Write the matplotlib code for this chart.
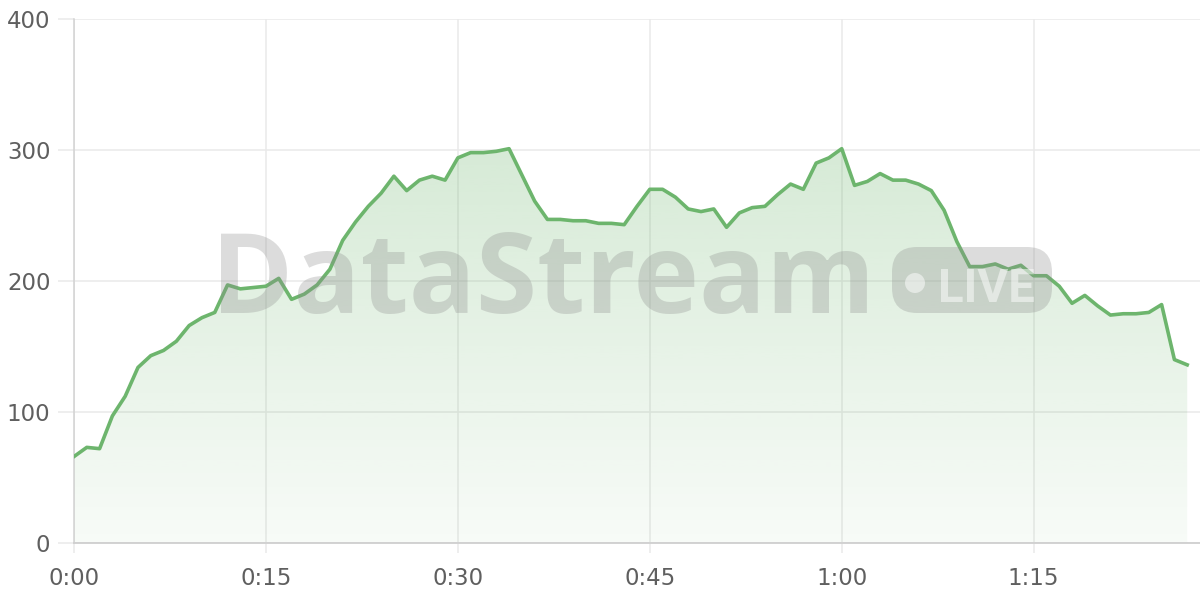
import numpy as np
import matplotlib
matplotlib.use("Agg")
import matplotlib.pyplot as plt
from matplotlib.patches import FancyBboxPatch, Circle

# ---- data (one value per minute) ----
minutes = list(range(88))
values = [66, 73, 72, 97, 112, 134, 143, 147, 154, 166, 172, 176, 197, 194, 195, 196,
          202, 186, 190, 197, 209, 231, 245, 257, 267, 280, 269, 277, 280, 277,
          294, 298, 298, 299, 301, 281, 261, 247, 247, 246, 246, 244, 244, 243,
          257, 270, 270, 264, 255, 253, 255, 241, 252, 256, 257, 266, 274, 270,
          290, 294, 301, 273, 276, 282, 277, 277, 274, 269, 254, 230, 211, 211,
          213, 209, 212, 204, 204, 196, 183, 189, 181, 174, 175, 175, 176, 182,
          140, 136]
xtick_minutes = [0, 15, 30, 45, 60, 75]
xtick_labels = [f"{m // 60}:{m % 60:02d}" for m in xtick_minutes]
yticks = [0, 100, 200, 300, 400]

LINE = "#6db56d"
TXT = "#5f5f5f"
GRID = "#e9e9e9"

plt.rcParams["font.family"] = ["DejaVu Sans"]

fig = plt.figure(figsize=(12, 6), dpi=100)
ax = fig.add_axes([74 / 1200, 57 / 600, 1126 / 1200, 524 / 600])
ax.set_xlim(0, 88)
ax.set_ylim(0, 400)

x = np.array(minutes, dtype=float)
y = np.array(values, dtype=float)

# gradient fill under the line
poly = ax.fill_between(x, y, 0, facecolor="none", edgecolor="none")
ymax = y.max()
n = 256
alpha = np.linspace(0.28, 0.05, n)
rgb = matplotlib.colors.to_rgb(LINE)
grad = np.zeros((n, 1, 4))
grad[:, 0, 0], grad[:, 0, 1], grad[:, 0, 2] = rgb
grad[:, 0, 3] = alpha
im = ax.imshow(grad, extent=[x.min(), x.max(), 0, ymax], aspect="auto",
               origin="upper", zorder=1, interpolation="bilinear")
im.set_clip_path(poly.get_paths()[0], transform=ax.transData)
ax.set_xlim(0, 88)
ax.set_ylim(0, 400)

ax.plot(x, y, color=LINE, lw=2.6, solid_joinstyle="round", zorder=3)

# watermark
wm_gray = (0.55, 0.55, 0.55, 0.30)
fig.text(211 / 1200, (600 - 313) / 600, "DataStream", fontsize=80,
         fontweight="bold", family=["Open Sans", "DejaVu Sans"], color=wm_gray,
         ha="left", va="baseline", zorder=2)
badge = FancyBboxPatch((8.92, 2.87), 1.60, 0.66,
                       boxstyle="round,pad=0,rounding_size=0.25",
                       transform=fig.dpi_scale_trans, facecolor=wm_gray,
                       edgecolor="none", zorder=2)
fig.patches.append(badge)
dot = Circle((9.15, 3.17), 0.10, transform=fig.dpi_scale_trans,
             facecolor=(1, 1, 1, 0.5), edgecolor="none", zorder=2)
fig.patches.append(dot)
fig.text(938 / 1200, (600 - 302) / 600, "LIVE", fontsize=34, fontweight="bold",
         family=["Roboto", "DejaVu Sans"], color=(1, 1, 1, 0.5),
         ha="left", va="baseline", zorder=2)

# axes styling
ax.set_xticks(xtick_minutes)
ax.set_xticklabels(xtick_labels)
ax.set_yticks(yticks)
ax.grid(True, color=GRID, lw=1.1)
ax.set_axisbelow(True)
for s in ["top", "right"]:
    ax.spines[s].set_visible(False)
ax.spines["left"].set_color("#d2d2d2")
ax.spines["left"].set_linewidth(1.1)
ax.spines["bottom"].set_color("#cfcfcf")
ax.spines["bottom"].set_linewidth(1.3)
ax.tick_params(axis="y", length=11.5, width=1.1, color=GRID, pad=5.5,
               labelsize=16.5, labelcolor=TXT)
ax.tick_params(axis="x", length=7, width=1.1, color=GRID, pad=10,
               labelsize=16.5, labelcolor=TXT)

fig.savefig("out.png", dpi=100)
